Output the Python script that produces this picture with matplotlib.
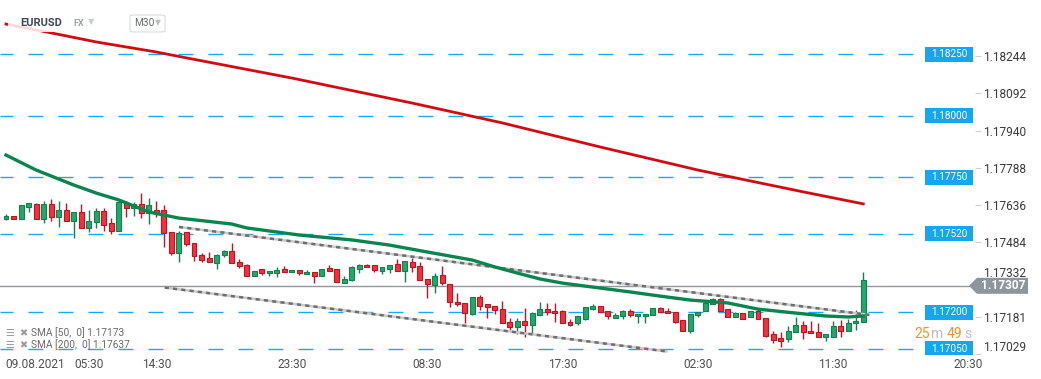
import matplotlib
matplotlib.use('Agg')
import matplotlib.pyplot as plt
from matplotlib.patches import Rectangle, Polygon, FancyBboxPatch
from matplotlib.transforms import blended_transform_factory
import numpy as np

# EURUSD M30 candles
opens = [1.17579, 1.17592, 1.17579, 1.17628, 1.17641, 1.17579, 1.17641, 1.17588, 1.17616, 1.17571,
         1.17608, 1.17543, 1.17567, 1.17612, 1.17563, 1.17530, 1.17645, 1.17624, 1.17641, 1.17604,
         1.17616, 1.17616, 1.17526, 1.17441, 1.17526, 1.17482, 1.17433, 1.17420, 1.17400, 1.17433,
         1.17449, 1.17404, 1.17392, 1.17347, 1.17376, 1.17359, 1.17359, 1.17376, 1.17363, 1.17371,
         1.17355, 1.17363, 1.17347, 1.17380, 1.17376, 1.17318, 1.17331, 1.17376, 1.17392, 1.17392,
         1.17367, 1.17376, 1.17396, 1.17367, 1.17404, 1.17388, 1.17335, 1.17310, 1.17351, 1.17314,
         1.17241, 1.17237, 1.17192, 1.17261, 1.17233, 1.17224, 1.17212, 1.17159, 1.17139, 1.17163,
         1.17147, 1.17188, 1.17212, 1.17204, 1.17204, 1.17159, 1.17155, 1.17171, 1.17212, 1.17224,
         1.17204, 1.17176, 1.17184, 1.17204, 1.17184, 1.17184, 1.17188, 1.17216, 1.17204, 1.17200,
         1.17167, 1.17123, 1.17188, 1.17204, 1.17233, 1.17253, 1.17212, 1.17180, 1.17196, 1.17180,
         1.17204, 1.17176, 1.17110, 1.17094, 1.17090, 1.17118, 1.17147, 1.17123, 1.17118, 1.17098,
         1.17098, 1.17143, 1.17123, 1.17155, 1.17159]
highs = [1.17600, 1.17592, 1.17637, 1.17645, 1.17645, 1.17653, 1.17661, 1.17653, 1.17645, 1.17608,
         1.17641, 1.17616, 1.17624, 1.17624, 1.17584, 1.17657, 1.17653, 1.17649, 1.17686, 1.17665,
         1.17653, 1.17637, 1.17526, 1.17530, 1.17526, 1.17482, 1.17441, 1.17445, 1.17437, 1.17453,
         1.17482, 1.17416, 1.17396, 1.17367, 1.17376, 1.17367, 1.17384, 1.17388, 1.17371, 1.17371,
         1.17371, 1.17363, 1.17376, 1.17392, 1.17376, 1.17347, 1.17388, 1.17396, 1.17396, 1.17392,
         1.17384, 1.17392, 1.17416, 1.17408, 1.17420, 1.17404, 1.17335, 1.17359, 1.17388, 1.17314,
         1.17278, 1.17237, 1.17261, 1.17269, 1.17233, 1.17224, 1.17245, 1.17176, 1.17176, 1.17216,
         1.17200, 1.17241, 1.17237, 1.17237, 1.17208, 1.17171, 1.17184, 1.17220, 1.17233, 1.17224,
         1.17204, 1.17196, 1.17208, 1.17212, 1.17192, 1.17192, 1.17216, 1.17220, 1.17216, 1.17200,
         1.17167, 1.17192, 1.17200, 1.17245, 1.17257, 1.17257, 1.17212, 1.17200, 1.17196, 1.17204,
         1.17212, 1.17176, 1.17123, 1.17118, 1.17143, 1.17180, 1.17163, 1.17163, 1.17155, 1.17110,
         1.17163, 1.17167, 1.17171, 1.17208, 1.17363]
lows = [1.17575, 1.17579, 1.17579, 1.17608, 1.17579, 1.17563, 1.17571, 1.17547, 1.17571, 1.17502,
        1.17543, 1.17526, 1.17543, 1.17530, 1.17518, 1.17530, 1.17588, 1.17592, 1.17584, 1.17559,
        1.17588, 1.17465, 1.17433, 1.17404, 1.17469, 1.17408, 1.17404, 1.17404, 1.17376, 1.17424,
        1.17400, 1.17380, 1.17347, 1.17347, 1.17351, 1.17347, 1.17343, 1.17363, 1.17363, 1.17351,
        1.17355, 1.17318, 1.17347, 1.17367, 1.17322, 1.17318, 1.17327, 1.17359, 1.17384, 1.17363,
        1.17355, 1.17359, 1.17367, 1.17322, 1.17363, 1.17331, 1.17257, 1.17278, 1.17310, 1.17220,
        1.17224, 1.17155, 1.17188, 1.17208, 1.17176, 1.17192, 1.17155, 1.17127, 1.17110, 1.17098,
        1.17110, 1.17188, 1.17188, 1.17159, 1.17155, 1.17143, 1.17147, 1.17167, 1.17208, 1.17200,
        1.17171, 1.17176, 1.17171, 1.17180, 1.17155, 1.17155, 1.17188, 1.17200, 1.17196, 1.17155,
        1.17123, 1.17114, 1.17180, 1.17204, 1.17233, 1.17204, 1.17180, 1.17180, 1.17171, 1.17180,
        1.17171, 1.17098, 1.17074, 1.17057, 1.17078, 1.17118, 1.17090, 1.17114, 1.17098, 1.17082,
        1.17098, 1.17098, 1.17123, 1.17127, 1.17159]
closes = [1.17592, 1.17579, 1.17637, 1.17645, 1.17579, 1.17641, 1.17588, 1.17616, 1.17571, 1.17608,
          1.17543, 1.17571, 1.17612, 1.17555, 1.17530, 1.17649, 1.17624, 1.17641, 1.17604, 1.17637,
          1.17600, 1.17522, 1.17441, 1.17522, 1.17477, 1.17429, 1.17412, 1.17404, 1.17433, 1.17449,
          1.17400, 1.17388, 1.17347, 1.17367, 1.17359, 1.17367, 1.17371, 1.17363, 1.17371, 1.17359,
          1.17363, 1.17347, 1.17376, 1.17367, 1.17322, 1.17335, 1.17384, 1.17392, 1.17384, 1.17371,
          1.17384, 1.17392, 1.17367, 1.17408, 1.17384, 1.17331, 1.17314, 1.17347, 1.17318, 1.17241,
          1.17233, 1.17196, 1.17261, 1.17224, 1.17220, 1.17208, 1.17155, 1.17139, 1.17163, 1.17147,
          1.17196, 1.17212, 1.17200, 1.17196, 1.17155, 1.17147, 1.17184, 1.17220, 1.17224, 1.17200,
          1.17184, 1.17188, 1.17204, 1.17188, 1.17192, 1.17192, 1.17216, 1.17200, 1.17196, 1.17159,
          1.17123, 1.17192, 1.17200, 1.17237, 1.17253, 1.17204, 1.17180, 1.17196, 1.17171, 1.17204,
          1.17171, 1.17102, 1.17086, 1.17082, 1.17123, 1.17147, 1.17118, 1.17114, 1.17098, 1.17110,
          1.17143, 1.17123, 1.17155, 1.17163, 1.17331]

# moving averages (sampled at candle numbers)
sma50_idx = [1, 5, 10, 13, 16, 20, 24, 31, 33, 40, 47, 52, 57, 63, 66, 69, 72, 75, 80, 84,
             88, 92, 97, 101, 106, 110, 113, 115]
sma50 = [1.17840, 1.17779, 1.17718, 1.17685, 1.17657, 1.17608, 1.17583, 1.17559, 1.17543, 1.17514,
         1.17494, 1.17473, 1.17445, 1.17412, 1.17384, 1.17359, 1.17335, 1.17318, 1.17298, 1.17282,
         1.17265, 1.17249, 1.17237, 1.17212, 1.17196, 1.17184, 1.17180, 1.17184]
sma200_idx = [1, 7, 13, 21, 25, 39, 55, 67, 80, 93, 98, 107, 115]
sma200 = [1.18374, 1.18338, 1.18301, 1.18260, 1.18236, 1.18154, 1.18052, 1.17971, 1.17873,
          1.17779, 1.17747, 1.17690, 1.17641]

# drawn trend channel (candle number, price)
upper_x, upper_y = [24, 115.9], [1.17547, 1.17188]
lower_x, lower_y = [22.1, 89.0], [1.17300, 1.17039]

levels = [1.18250, 1.18000, 1.17750, 1.17520, 1.17200, 1.17050]
last_price = 1.17307
yticks = [1.18244, 1.18092, 1.17940, 1.17788, 1.17636, 1.17484, 1.17332, 1.17181, 1.17029]
xtick_pos = [4.9, 12.0, 21, 39, 57, 75, 93, 111, 129]
xtick_lab = ['09.08.2021', '05:30', '14:30', '23:30', '08:30', '17:30', '02:30', '11:30', '20:30']

GREEN, GREEN_E = '#22a86a', '#14804c'
RED, RED_E = '#f0323f', '#c2121f'
BLUE = '#16a6f0'

plt.rcParams['font.family'] = ['Roboto', 'DejaVu Sans']
plt.rcParams['lines.scale_dashes'] = False

W, H = 1041, 379
fx = lambda px: px / W
fy = lambda py: 1 - py / H

fig = plt.figure(figsize=(W / 100, H / 100), dpi=100)
ax = fig.add_axes([0, fy(355), fx(975), fy(0) - fy(355)])
ax.set_xlim(1 - 6 / 7.52, 1 + 969 / 7.52)
ax.set_ylim(1.17025, 1.18472)
for s in ax.spines.values():
    s.set_visible(False)
dpp = (ax.get_ylim()[1] - ax.get_ylim()[0]) / 355
axy = blended_transform_factory(ax.transAxes, ax.transData)

# support / resistance levels
for lv in levels:
    ax.axhline(lv, xmax=920 / 975, color='#1aa8f2', lw=1, ls=(1.5, (10.8, 10.8)), zorder=1)
    ax.add_patch(Rectangle((925 / 975, lv - 7.5 * dpp), 48 / 975, 15 * dpp, transform=axy,
                           color=BLUE, zorder=6, lw=0))
    ax.text(949 / 975, lv, '{:.5f}'.format(lv), transform=axy, color='white', fontsize=7.2,
            ha='center', va='center', zorder=7)

ax.axhline(last_price, xmax=970 / 975, color='#8f989e', lw=1, zorder=2)

# candles
x = np.arange(1, len(opens) + 1)
o, h, l, c = map(np.array, (opens, highs, lows, closes))
up = c >= o
lo = np.minimum(o, c)
hh = np.maximum(np.abs(c - o), 0.00003)
ax.vlines(x[up], l[up], h[up], color=GREEN_E, lw=1, zorder=3)
ax.vlines(x[~up], l[~up], h[~up], color=RED_E, lw=1, zorder=3)
ax.bar(x[up], hh[up], bottom=lo[up], width=0.66, color=GREEN, edgecolor=GREEN_E, lw=0.8, zorder=4)
ax.bar(x[~up], hh[~up], bottom=lo[~up], width=0.66, color=RED, edgecolor=RED_E, lw=0.8, zorder=4)

# channel
for cx, cy in ((upper_x, upper_y), (lower_x, lower_y)):
    ax.plot(cx, cy, color='#c9c9c9', lw=1.8, zorder=5, solid_capstyle='butt')
    ax.plot(cx, cy, color='#6e6e6e', lw=1.8, ls=(0, (3, 3)), zorder=5)

ax.plot(sma200_idx, sma200, color='#d40a12', lw=2, zorder=5)
ax.plot(sma50_idx, sma50, color='#0a8550', lw=2.4, zorder=5)

# axes ticks
ax.yaxis.tick_right()
ax.set_yticks(yticks)
ax.set_yticklabels(['{:.5f}'.format(t) for t in yticks])
ax.tick_params(axis='y', length=4, width=0.8, color='#d0d0d0', pad=2, labelsize=8.6,
               labelcolor='#3a3a3a')
ax.get_yticklabels()[-1].set_va('bottom')
ax.get_yticklabels()[6].set_va('bottom')  # sits under the price tag
ax.set_xticks(xtick_pos)
ax.set_xticklabels(xtick_lab)
ax.tick_params(axis='x', length=0, pad=2, labelsize=8.6, labelcolor='#505050')

# last price tag
tr = blended_transform_factory(fig.transFigure, ax.transData)
lp = last_price
fig.add_artist(Polygon([(fx(969), lp), (fx(977), lp + 8 * dpp), (fx(1028), lp + 8 * dpp),
                        (fx(1028), lp - 8 * dpp), (fx(977), lp - 8 * dpp)],
                       transform=tr, facecolor='#8c969c', edgecolor='none', zorder=5))
fig.text(fx(1003), lp, '{:.5f}'.format(lp), transform=tr, color='white', fontsize=8.6,
         fontweight='bold', ha='center', va='center', zorder=6)

# header
fig.add_artist(Rectangle((fx(8), fy(32)), fx(165), fy(10) - fy(32), transform=fig.transFigure,
                         facecolor='white', alpha=0.85, edgecolor='none', zorder=2))
fig.text(fx(20), fy(23), 'EURUSD', fontsize=8, fontweight='bold', color='#3d4852', va='center', zorder=3)
fig.text(fx(73), fy(24), 'FX', fontsize=6.5, fontweight='bold', color='#9aa3a9', va='center', zorder=3)
fig.text(fx(88), fy(22), '▼', fontsize=6, color='#c8cdd0', va='center', zorder=3, family='DejaVu Sans')
fig.add_artist(FancyBboxPatch((fx(130), fy(32)), fx(35), fy(15) - fy(32), transform=fig.transFigure,
                              boxstyle='round,pad=0,rounding_size=0.004', facecolor='white',
                              edgecolor='#dcdcdc', lw=0.8, zorder=3))
fig.text(fx(134), fy(23.5), 'M30', fontsize=7.3, color='#666c70', va='center', zorder=4)
fig.text(fx(155), fy(23), '▼', fontsize=5.5, color='#b8bdc0', va='center', zorder=4, family='DejaVu Sans')

# countdown
for px, s, col in ((914, '25', '#f7931e'), (931, 'm', '#b9bec2'), (947, '49', '#f7931e'), (964, 's', '#b9bec2')):
    fig.text(fx(px), fy(334), s, fontsize=10, color=col, va='center', zorder=4)

# indicator legend
for py, s in ((333, 'SMA [50,  0] 1.17173'), (345, 'SMA [200,  0] 1.17637')):
    fig.text(fx(5), fy(py), '☰', fontsize=7, color='#9b9b9b', va='center', family='DejaVu Sans', zorder=4)
    fig.text(fx(19), fy(py), '✖', fontsize=7, color='#9b9b9b', va='center', family='DejaVu Sans', zorder=4)
    fig.text(fx(31), fy(py), s, fontsize=7.3, color='#6a6a6a', va='center', zorder=4)

fig.savefig('out.png', dpi=100)
